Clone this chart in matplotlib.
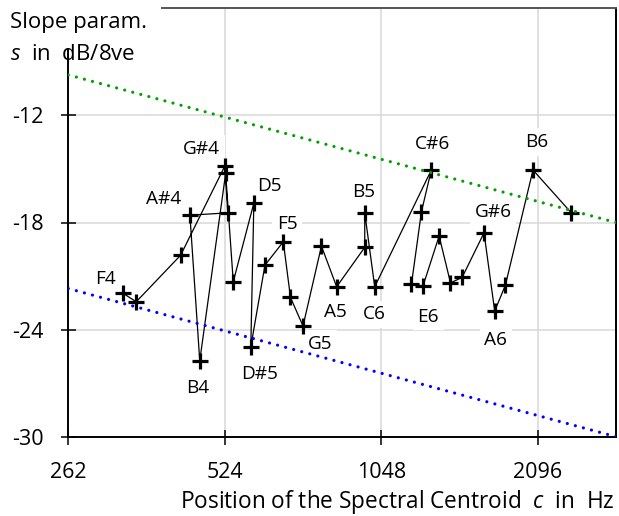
import matplotlib.pyplot as plt
import numpy as np

plt.rcParams['font.family'] = ['Open Sans', 'DejaVu Sans']
plt.rcParams['mathtext.fontset'] = 'custom'
plt.rcParams['mathtext.rm'] = 'Open Sans'
plt.rcParams['mathtext.it'] = 'Open Sans:italic'

# one point per note, chromatic from F4 to C7
notes = ['F4', 'F#4', 'G4', 'G#4', 'A4', 'A#4', 'B4', 'C5', 'C#5', 'D5', 'D#5', 'E5',
         'F5', 'F#5', 'G5', 'G#5', 'A5', 'A#5', 'B5', 'C6', 'C#6', 'D6', 'D#6', 'E6',
         'F6', 'F#6', 'G6', 'G#6', 'A6', 'A#6', 'B6', 'C7']
centroid_hz = [334, 354, 431, 524, 531, 449, 469, 526, 544, 596, 588, 626,
               679, 701, 741, 804, 860, 974, 974, 1018, 1308, 1252, 1198, 1261,
               1354, 1424, 1499, 1652, 1732, 1816, 2052, 2432]
slope_db = [-21.97, -22.44, -19.83, -14.84, -17.46, -17.59, -25.75, -15.25,
            -21.32, -16.91, -24.96, -20.39, -19.08, -22.20, -23.80, -19.32,
            -21.60, -19.39, -17.46, -21.60, -15.06, -17.40, -21.45, -21.55,
            -18.76, -21.38, -21.08, -18.58, -22.96, -21.51, -15.06, -17.46]

# upper / lower bound lines
bound_hz = [262, 2964]
upper_db = [-9.73, -18.0]
lower_db = [-21.7, -30.0]

xticks = [262, 524, 1048, 2096]
yticks = [-30, -24, -18, -12]

# label offsets from the point in pixels (right, down), to the middle of the caps
label_offsets = {
    'F4': (-18, -16), 'G#4': (-23, -19), 'A#4': (-26, -17.5), 'B4': (-2, 25),
    'D5': (16, -18.5), 'D#5': (8.5, 26), 'F5': (4, -19), 'G5': (17, 16.5),
    'A5': (-1.5, 23.5), 'B5': (-1, -22.7), 'C6': (0, 26), 'C#6': (1.5, -28),
    'E6': (5, 29), 'G#6': (9, -23), 'A6': (1, 27.5), 'B6': (4, -29.5),
}

W, H = 619, 516
fig = plt.figure(figsize=(W / 100, H / 100), dpi=100)
ax = fig.add_axes([68.3 / W, 1 - 436.7 / H, (616 - 68.3) / W, (436.7 - 8.3) / H])

ax.set_xscale('log', base=2)
ax.set_xlim(262, 2964)
ax.set_ylim(-30, -6)

ax.plot(centroid_hz, slope_db, color='black', lw=0.9, marker='+', ms=11,
        mew=2.3, zorder=3)
dots = dict(lw=2.3, linestyle=(0, (0.01, 2.6)), dash_capstyle='round', zorder=4)
ax.plot(bound_hz, upper_db, color='#00a000', **dots)
ax.plot(bound_hz, lower_db, color='#0000ff', **dots)

for name, x, y in zip(notes, centroid_hz, slope_db):
    if name not in label_offsets:
        continue
    dx, dy = label_offsets[name]
    ax.annotate(name, (x, y), xytext=(dx * 0.72, -(dy + 6.7) * 0.72),
                textcoords='offset points', ha='center', va='baseline',
                fontsize=13.7, zorder=2,
                bbox=dict(boxstyle='square,pad=0.25', fc='white', ec='none'))

ax.set_xticks(xticks)
ax.set_xticklabels([str(t) for t in xticks])
ax.xaxis.set_minor_locator(plt.NullLocator())
ax.set_yticks(yticks)
ax.set_yticklabels([str(t) for t in yticks])
ax.tick_params(direction='inout', length=10.8, width=1.1, labelsize=15.5, pad=12.5)
ax.grid(True, color='#d9d9d9', lw=1.1, zorder=0)
ax.set_axisbelow(True)

for side in ['left', 'bottom', 'right']:
    ax.spines[side].set_linewidth(1.4)
    ax.spines[side].set_color('black')
ax.spines['top'].set_linewidth(1.4)
ax.spines['top'].set_color('#555555')

fig.text(615 / W, 1 - 508 / H, r'Position of the Spectral Centroid  $c$  in  Hz',
         ha='right', va='baseline', fontsize=16.3)
fig.text(10 / W, 1 - 28.3 / H, 'Slope param.', ha='left', va='baseline',
         fontsize=16,
         bbox=dict(boxstyle='square,pad=0.65', fc='white', ec='none'))
fig.text(10 / W, 1 - 60 / H, r'$s$  in  dB/8ve', ha='left', va='baseline',
         fontsize=16)

fig.savefig('out.png', dpi=100)
